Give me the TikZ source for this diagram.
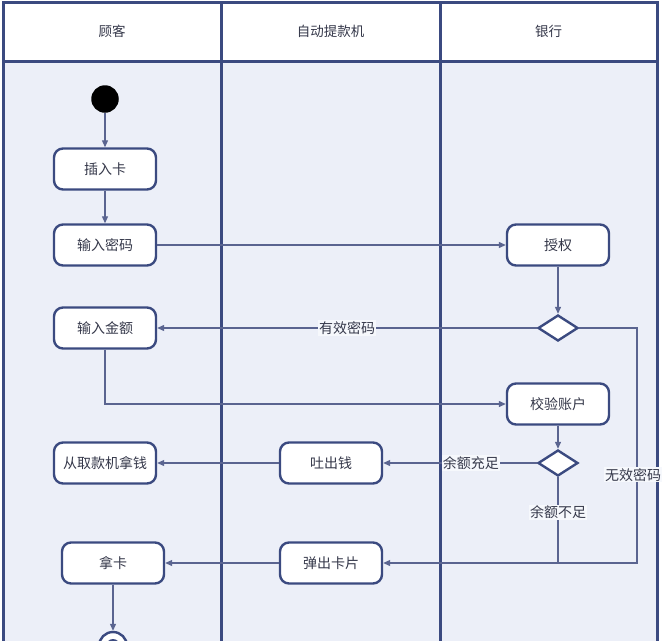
\documentclass[tikz,border=0pt]{standalone}
\usepackage{fontspec}
\setmainfont{Noto Sans CJK SC}
\usetikzlibrary{arrows.meta,shapes.geometric}
\definecolor{frame}{HTML}{3B4A80}
\definecolor{lanefill}{HTML}{ECEFF8}
\definecolor{edge}{HTML}{5A6490}
\definecolor{txt}{HTML}{35384A}
\tikzset{
  act/.style={draw=frame, line width=2.4pt, fill=white, rounded corners=9pt,
    minimum width=102pt, minimum height=41pt, inner sep=0pt, text=txt,
    font=\fontsize{14}{16}\selectfont},
  dec/.style={draw=frame, line width=2.4pt, fill=white, diamond, aspect=1.54,
    minimum width=40pt, minimum height=26pt, inner sep=0pt},
  conn/.style={draw=edge, line width=1.2pt},
  arr/.style={conn, -{Triangle[length=7pt,width=6pt]}},
  lbl/.style={fill=white!55!lanefill, inner sep=1pt, text=txt,
    font=\fontsize{14}{16}\selectfont},
  hdr/.style={text=txt, font=\fontsize{13.5}{16}\selectfont},
}
\begin{document}
\begin{tikzpicture}[x=1pt,y=-1pt]
\useasboundingbox (0,0) rectangle (663,640);
% lanes
\fill[lanefill] (3.5,61) rectangle (657,660);
\fill[white] (3.5,2) rectangle (657,61);
\draw[frame, line width=3pt] (3.5,660) -- (3.5,2) -- (657,2) -- (657,660);
\draw[frame, line width=3pt] (3.5,61) -- (657,61);
\draw[frame, line width=3pt] (221,2) -- (221,660);
\draw[frame, line width=3pt] (440,2) -- (440,660);
\node[hdr] (h1) at (112,31) {顾客};
\node[hdr] (h2) at (330.5,31) {自动提款机};
\node[hdr] (h3) at (548.5,31) {银行};
% nodes
\node[circle, fill=black, minimum size=27.5pt, inner sep=0pt] (start) at (105,99) {};
\node[act] (insert) at (105,169) {插入卡};
\node[act] (pw) at (105,245) {输入密码};
\node[act] (auth) at (558,245) {授权};
\node[dec] (d1) at (558,328) {};
\node[act] (amt) at (105,328) {输入金额};
\node[act] (verify) at (558,404) {校验账户};
\node[dec] (d2) at (558,463) {};
\node[act] (cash) at (331,463) {吐出钱};
\node[act] (takecash) at (105,463) {从取款机拿钱};
\node[act] (eject) at (331,563) {弹出卡片};
\node[act] (takecard) at (113,563) {拿卡};
\node[circle, draw=frame, line width=2.4pt, fill=white, minimum size=28pt, inner sep=0pt] (end) at (113,646) {};
\node[circle, fill=frame, minimum size=14pt, inner sep=0pt] (endin) at (end.center) {};
\coordinate (r1) at (637,328);
\coordinate (r2) at (637,563);
\coordinate (j) at (558,563);
% edges
\draw[arr] (start) -- (insert);
\draw[arr] (insert) -- (pw);
\draw[arr] (pw) -- (auth);
\draw[arr] (auth) -- (d1);
\draw[arr] (d1.west) -- node[lbl, pos=0.5] {有效密码} (amt.east);
\draw[arr] (d1.east) -- (r1) -- node[lbl, pos=0.625, xshift=-4pt] {无效密码} (r2) -- (eject.east);
\draw[arr] (amt.south) |- (verify.west);
\draw[arr] (verify) -- (d2);
\draw[arr] (d2.west) -- node[lbl, pos=0.43] {余额充足} (cash.east);
\draw[conn] (d2.south) -- node[lbl, pos=0.41] {余额不足} (j);
\draw[arr] (cash) -- (takecash);
\draw[arr] (eject) -- (takecard);
\draw[arr] (takecard) -- (end);
\end{tikzpicture}
\end{document}
